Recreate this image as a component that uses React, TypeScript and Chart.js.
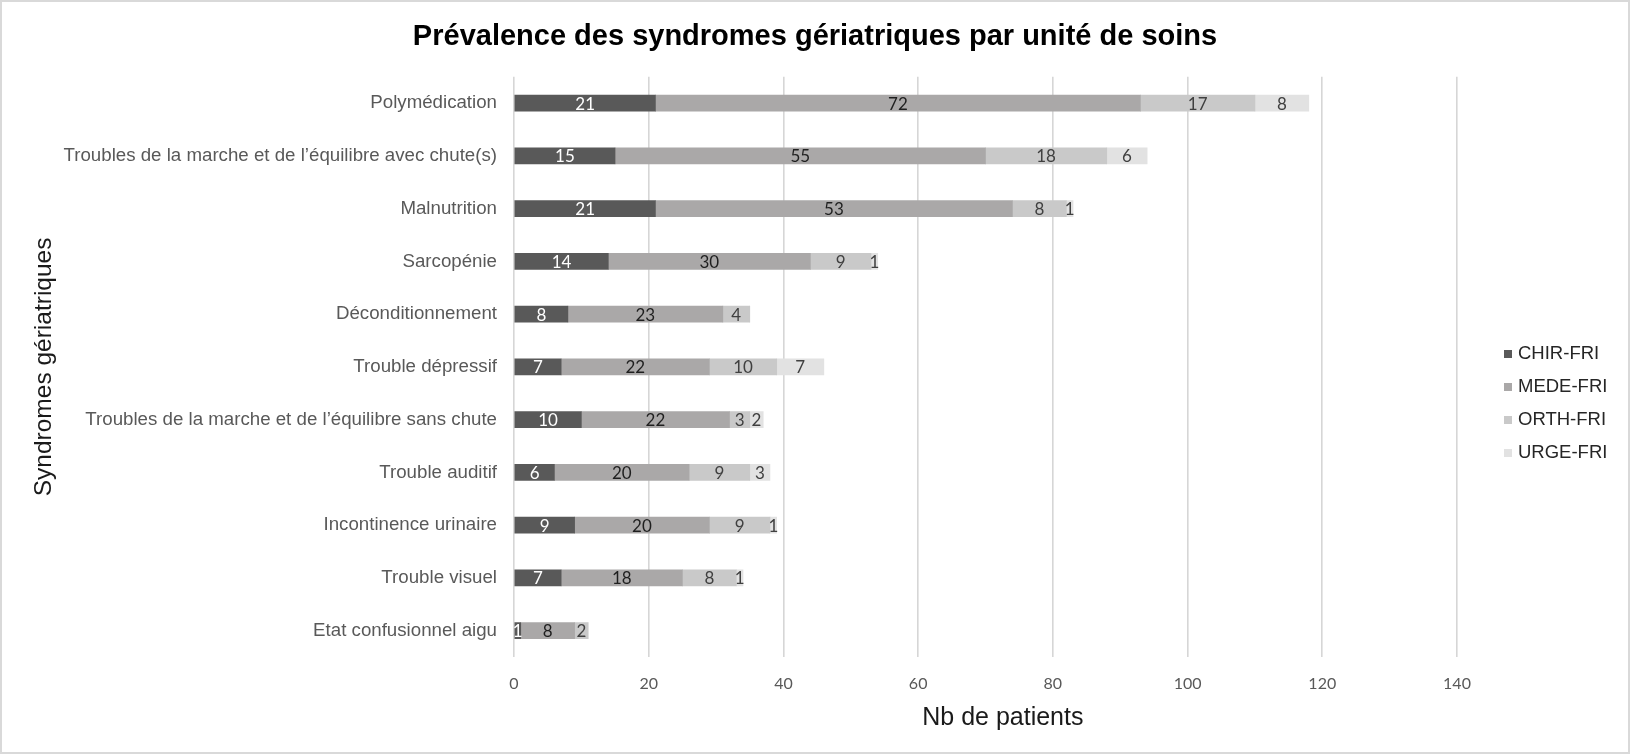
import React, { useEffect, useRef } from 'react';
import { Chart, registerables, layouts } from 'chart.js';

Chart.register(...registerables);

const categories = [
  'Polymédication',
  'Troubles de la marche et de l’équilibre avec chute(s)',
  'Malnutrition',
  'Sarcopénie',
  'Déconditionnement',
  'Trouble dépressif',
  'Troubles de la marche et de l’équilibre sans chute',
  'Trouble auditif',
  'Incontinence urinaire',
  'Trouble visuel',
  'Etat confusionnel aigu',
];
const seriesNames = ['CHIR-FRI', 'MEDE-FRI', 'ORTH-FRI', 'URGE-FRI'];
const chirFri = [21, 15, 21, 14, 8, 7, 10, 6, 9, 7, 1];
const medeFri = [72, 55, 53, 30, 23, 22, 22, 20, 20, 18, 8];
const orthFri = [17, 18, 8, 9, 4, 10, 3, 9, 9, 8, 2];
const urgeFri = [8, 6, 1, 1, 0, 7, 2, 3, 1, 1, 0];
const xMin = 0;
const xMax = 140;
const xStep = 20;

const chartTitle = 'Prévalence des syndromes gériatriques par unité de soins';
const xTitle = 'Nb de patients';
const yTitle = 'Syndromes gériatriques';

const seriesColors = ['#595959', '#aaa8a8', '#c9c9c9', '#e2e2e2'];
const labelColors = ['#ffffff', '#1f1f1f', '#404040', '#404040'];

const ARIAL = "'Liberation Sans', Arial, sans-serif";
const NUM = "Lato, 'Open Sans', sans-serif";

const frame = {
  id: 'frame',
  beforeDraw(chart: any) {
    const { ctx, width, height } = chart;
    ctx.save();
    ctx.fillStyle = '#ffffff';
    ctx.fillRect(0, 0, width, height);
    ctx.restore();
  },
  afterDraw(chart: any) {
    const { ctx, width, height } = chart;
    ctx.save();
    ctx.strokeStyle = '#d9d9d9';
    ctx.lineWidth = 2;
    ctx.strokeRect(1, 1, width - 2, height - 2);
    ctx.restore();
  },
};

const valueLabels = {
  id: 'valueLabels',
  afterDatasetsDraw(chart: any) {
    const { ctx } = chart;
    ctx.save();
    ctx.font = `17px ${NUM}`;
    ctx.textAlign = 'center';
    ctx.textBaseline = 'middle';
    chart.data.datasets.forEach((ds: any, i: number) => {
      const meta = chart.getDatasetMeta(i);
      meta.data.forEach((bar: any, j: number) => {
        const v = ds.data[j];
        if (!v) return;
        const p = bar.getProps(['x', 'y', 'base'], true);
        ctx.fillStyle = labelColors[i];
        ctx.fillText(String(v), (p.x + p.base) / 2, p.y + 1);
      });
    });
    ctx.restore();
  },
};

// Right-hand legend: reserves a layout box on the right and draws the keys in it.
const sideLegend = {
  id: 'sideLegend',
  beforeInit(chart: any) {
    const box: any = {
      position: 'right',
      weight: 1000,
      fullSize: false,
      options: { stackWeight: 1 },
      left: 0,
      top: 0,
      right: 0,
      bottom: 0,
      width: 0,
      height: 0,
      isHorizontal() {
        return false;
      },
      getPadding() {
        return { left: 0, right: 0, top: 0, bottom: 0 };
      },
      update(_maxW: number, maxH: number) {
        this.width = 173;
        this.height = maxH;
      },
      draw() {},
    };
    layouts.addBox(chart, box);
  },
  afterDraw(chart: any) {
    const { ctx } = chart;
    const boxX = 1504;
    const textX = 1518;
    const firstY = 354;
    const gap = 33;
    const box = 8;
    ctx.save();
    ctx.font = `18.5px ${ARIAL}`;
    ctx.textAlign = 'left';
    ctx.textBaseline = 'middle';
    chart.data.datasets.forEach((ds: any, i: number) => {
      const y = firstY + i * gap;
      ctx.fillStyle = ds.backgroundColor;
      ctx.fillRect(boxX, y - box / 2, box, box);
      ctx.fillStyle = '#262626';
      ctx.fillText(ds.label, textX, y);
    });
    ctx.restore();
  },
};

export default function App() {
  const ref = useRef<HTMLCanvasElement | null>(null);

  useEffect(() => {
    if (!ref.current) return;
    const seriesData = [chirFri, medeFri, orthFri, urgeFri];
    const chart = new Chart(ref.current, {
      type: 'bar',
      data: {
        labels: categories,
        datasets: seriesNames.map((name, i) => ({
          label: name,
          data: seriesData[i],
          backgroundColor: seriesColors[i],
          borderWidth: 0,
          barThickness: 16,
        })),
      },
      options: {
        indexAxis: 'y',
        responsive: false,
        animation: false,
        devicePixelRatio: 1,
        layout: { padding: { left: 0, right: 0, top: 0, bottom: 21 } },
        plugins: {
          legend: { display: false },
          tooltip: { enabled: false },
          title: {
            display: true,
            text: chartTitle,
            color: '#000000',
            font: { family: ARIAL, size: 29, weight: 'bold' },
            padding: { top: 19.5, bottom: 22.5 },
          },
        },
        scales: {
          x: {
            stacked: true,
            min: xMin,
            max: xMax,
            afterFit: (scale: any) => {
              scale.height = 76;
            },
            ticks: {
              stepSize: xStep,
              color: '#595959',
              font: { family: NUM, size: 16 },
              padding: 17,
            },
            grid: {
              color: '#d6d6d6',
              lineWidth: 1.6,
              drawTicks: false,
            },
            border: { display: false },
            title: {
              display: true,
              text: '     ' + xTitle,
              color: '#1a1a1a',
              font: { family: ARIAL, size: 25 },
              padding: { top: 0, bottom: 0 },
            },
          },
          y: {
            stacked: true,
            afterFit: (scale: any) => {
              scale.width = 514;
            },
            ticks: {
              color: '#595959',
              font: { family: ARIAL, size: 18.7 },
              padding: 17,
              autoSkip: false,
            },
            grid: { display: false, drawTicks: false },
            border: { display: false },
            title: {
              display: true,
              text: yTitle,
              color: '#1a1a1a',
              font: { family: ARIAL, size: 24.5 },
              padding: { top: 29.5, bottom: 0 },
            },
          },
        },
      },
      plugins: [frame, valueLabels, sideLegend],
    });
    return () => chart.destroy();
  }, []);

  return (
    <div style={{ position: 'fixed', left: 0, top: 0, width: 1630, height: 754 }}>
      <canvas ref={ref} width={1630} height={754} style={{ display: 'block' }} />
    </div>
  );
}
